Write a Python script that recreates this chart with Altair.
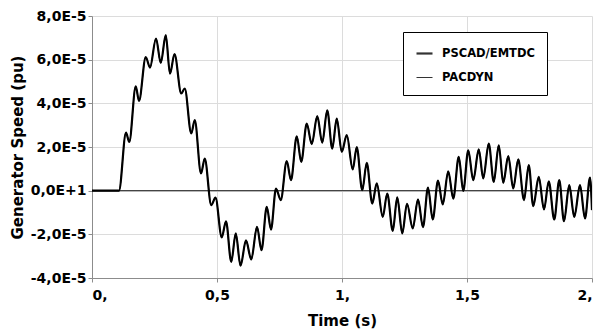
import altair as alt
import pandas as pd

# Extrema of the trace (time in s, speed in 1E-5 pu)
time_s = [0.0, 0.05, 0.108, 0.136, 0.149, 0.175, 0.188, 0.215, 0.232, 0.256, 0.275,
          0.295, 0.312, 0.330, 0.357, 0.371, 0.397, 0.411, 0.436, 0.451, 0.477,
          0.494, 0.519, 0.536, 0.557, 0.575, 0.594, 0.616, 0.637, 0.660, 0.678,
          0.699, 0.716, 0.736, 0.755, 0.779, 0.796, 0.819, 0.837, 0.859, 0.879,
          0.901, 0.921, 0.941, 0.961, 0.979, 0.999, 1.019, 1.043, 1.059, 1.081,
          1.099, 1.121, 1.139, 1.163, 1.181, 1.203, 1.221, 1.241, 1.260, 1.283,
          1.304, 1.324, 1.344, 1.363, 1.384, 1.403, 1.425, 1.445, 1.467, 1.485,
          1.505, 1.525, 1.547, 1.565, 1.587, 1.607, 1.627, 1.645, 1.665, 1.685,
          1.705, 1.728, 1.747, 1.765, 1.787, 1.808, 1.827, 1.849, 1.869, 1.888,
          1.909, 1.929, 1.952, 1.972, 1.992, 2.0]
speed_e5 = [0.0, 0.0, 0.0, 2.66, 2.23, 4.78, 4.11, 6.12, 5.64, 6.97, 5.85,
            7.12, 5.36, 6.26, 4.45, 4.68, 2.62, 3.23, 0.79, 1.47, -0.66,
            -0.32, -2.14, -1.40, -3.26, -1.96, -3.44, -2.28, -3.15, -1.66, -2.73,
            -0.74, -1.78, 0.10, -0.43, 1.35, 0.48, 2.49, 1.32, 3.07, 2.13,
            3.41, 2.20, 3.68, 1.93, 3.30, 1.78, 2.54, 0.97, 2.00, 0.02,
            1.27, -0.59, 0.33, -1.20, -0.13, -1.84, -0.31, -1.96, -0.60, -1.73,
            -0.40, -1.67, 0.14, -1.32, 0.46, -0.63, 0.89, -0.36, 1.55, -0.01,
            1.85, 0.48, 1.89, 0.56, 2.16, 0.40, 2.08, 0.36, 1.58, 0.10,
            1.43, -0.43, 1.17, -0.71, 0.63, -0.86, 0.43, -1.32, 0.48, -1.40,
            0.25, -1.20, 0.25, -1.27, 0.60, -0.89]

series_names = ["PSCAD/EMTDC", "PACDYN"]
x_ticks = [0, 0.5, 1, 1.5, 2]
x_tick_labels = ["0,", "0,5", "1,", "1,5", "2,"]
y_ticks_e5 = [-4, -2, 0, 2, 4, 6, 8]
y_tick_labels = ["-4,0E-5", "-2,0E-5", "0,0E+1", "2,0E-5", "4,0E-5", "6,0E-5", "8,0E-5"]

rows = []
for name in series_names:
    for t, v in zip(time_s, speed_e5):
        rows.append({"time": t, "speed": v * 1e-5, "series": name})
df = pd.DataFrame(rows)


def label_expr(values, labels, key):
    expr = "''"
    for v, lab in reversed(list(zip(values, labels))):
        expr = f"({key} == {v} ? '{lab}' : {expr})"
    return expr


x_expr = label_expr([int(v * 10) for v in x_ticks], x_tick_labels, "round(datum.value*10)")
y_expr = label_expr(y_ticks_e5, y_tick_labels, "round(datum.value*100000)")

FONT = "DejaVu Sans"

base = alt.Chart(df)

lines = base.mark_line(interpolate="monotone", clip=True, color="black").encode(
    x=alt.X("time:Q", scale=alt.Scale(domain=[0, 2], nice=False),
            axis=alt.Axis(values=x_ticks, labelExpr=x_expr, title="Time (s)",
                          titleY=35, titleBaseline="top")),
    y=alt.Y("speed:Q", scale=alt.Scale(domain=[-4e-5, 8e-5], nice=False),
            axis=alt.Axis(values=[v * 1e-5 for v in y_ticks_e5], labelExpr=y_expr,
                          title="Generator Speed (pu)", titleX=-75, titleY=131,
                          titleBaseline="middle", titleAngle=-90)),
    strokeWidth=alt.StrokeWidth(
        "series:N",
        scale=alt.Scale(domain=series_names, range=[2.2, 1.0]),
        sort=series_names,
        legend=alt.Legend(orient="none", legendX=311, legendY=16, title=None,
                          symbolType="stroke", symbolSize=256,
                          symbolStrokeColor="#333", labelFont=FONT,
                          labelFontWeight="bold", labelFontSize=11.5,
                          labelColor="black", padding=12, rowPadding=10,
                          labelOffset=8, fillColor="white", strokeColor="black"),
    ),
)

zero = alt.Chart(pd.DataFrame({"y": [0.0]})).mark_rule(color="#444", strokeWidth=1.2).encode(
    y=alt.Y("y:Q")
)

chart = alt.layer(zero, lines).properties(
    width=500, height=262,
    autosize=alt.AutoSizeParams(type="none"),
    padding={"left": 92, "top": 16, "right": 6, "bottom": 53},
).configure_view(stroke=None).configure_axis(
    labelFont=FONT, labelFontWeight="bold", labelFontSize=14, labelColor="black",
    titleFont=FONT, titleFontWeight="bold", titleFontSize=15, titleColor="black",
    gridColor="#dcdcdc", gridWidth=1, domainColor="#8c8c8c", tickColor="#8c8c8c",
    tickSize=4,
).configure_axisX(labelPadding=6).configure_axisY(labelPadding=2)

chart.save("out.html", embed_options={"renderer": "svg", "actions": False})
